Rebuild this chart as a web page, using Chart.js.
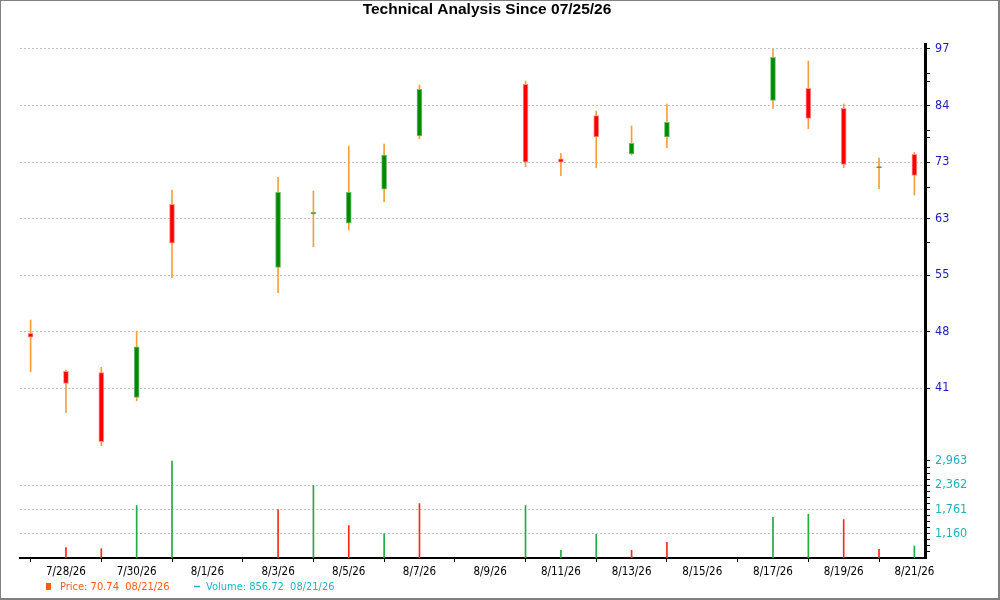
<!DOCTYPE html>
<html lang="en">
  <head>
    <meta charset="UTF-8" />
    <script src="https://cdn.jsdelivr.net/npm/chart.js"></script>
    <style>
      html, body { margin: 0; padding: 0; background: #fff; }
      #mainChart { width: 1000px; height: 600px; }
    </style>
  </head>
  <body>
    <div id="mainChart">
      <canvas id="myChart"></canvas>
    </div>

    <script>
      // trading days
      const dates = [
        "7/27/26", "7/28/26", "7/29/26", "7/30/26", "7/31/26",
        "8/3/26", "8/4/26", "8/5/26", "8/6/26", "8/7/26",
        "8/10/26", "8/11/26", "8/12/26", "8/13/26", "8/14/26",
        "8/17/26", "8/18/26", "8/19/26", "8/20/26", "8/21/26",
      ];
      const open = [47.54, 43.19, 43.05, 40.46, 65.8, 56.13, 64.21, 62.72, 68.33, 78.15,
        89.02, 73.8, 82.25, 74.69, 77.95, 85.5, 88.12, 83.79, 72.15, 74.63];
      const high = [49.16, 43.34, 43.63, 47.81, 68.21, 70.43, 68.04, 76.21, 76.59, 88.87,
        89.77, 74.82, 83.23, 80.15, 84.71, 97.23, 94.4, 84.71, 73.94, 75.0];
      const low = [43.15, 38.92, 35.82, 40.11, 54.68, 52.66, 59.13, 61.67, 66.23, 77.62,
        72.34, 70.71, 72.15, 74.5, 75.88, 83.79, 79.6, 72.15, 68.43, 67.35];
      const close = [47.07, 41.91, 36.18, 45.95, 59.64, 67.82, 64.48, 67.82, 74.49, 87.91,
        73.14, 73.14, 77.95, 76.72, 80.9, 95.29, 81.71, 72.77, 72.25, 70.74];
      const volume = [null, 817, 792, 1858, 2963, 1758, 2353, 1362, 1160, 1907,
        1858, 750, 1146, 750, 948, 1568, 1643, 1510, 775, 856.72];
      const volumeUp = [true, false, false, true, true, false, true, false, true, false,
        true, true, true, false, false, true, true, false, false, true];

      const priceTicks = [97.3, 84.39, 73.19, 63.48, 55.05, 47.75, 41.41];
      const priceTickLabels = ["97", "84", "73", "63", "55", "48", "41"];
      const priceMinorTicks = [91.4, 89.7, 79.3, 77.8, 68.7, 59.7];
      const volumeTicks = [2963, 2362, 1761, 1160];
      const volumeTickLabels = ["2,963", "2,362", "1,761", "1,160"];
      const dateTicks = ["7/28/26", "7/30/26", "8/1/26", "8/3/26", "8/5/26", "8/7/26",
        "8/9/26", "8/11/26", "8/13/26", "8/15/26", "8/17/26", "8/19/26", "8/21/26"];

      const PRICE_MIN = 35.43, PRICE_MAX = 98.53;
      const VOL_MIN = 559, VOL_MAX = 3235;

      const FONT = "'DejaVu Sans Condensed', 'DejaVu Sans', sans-serif";
      const WICK = "#f5a03c";
      const UP = "#008a00", UP_EDGE = "#70c070";
      const DOWN = "#ff0000", DOWN_EDGE = "#ff9090";
      const VOL_UP = "#22aa44", VOL_DOWN = "#ff2a10";
      const GRID = "#c0c0c0";

      function dayNum(s) {
        const [m, d] = s.split("/").map(Number);
        return Math.round((Date.UTC(2026, m - 1, d) - Date.UTC(2026, 6, 27)) / 864e5);
      }
      const xs = dates.map(dayNum);
      const isUp = dates.map((d, i) => close[i] >= open[i]);

      // volume minor ticks: quarters between the labelled ones
      const volStep = volumeTicks[0] - volumeTicks[1];
      const volumeMinor = [];
      for (let v = VOL_MIN + volStep / 4; v < volumeTicks[0]; v += volStep / 4) {
        if (!volumeTicks.some((t) => Math.abs(t - v) < 1)) volumeMinor.push(v);
      }

      const n = dates.length;
      const lastDate = dates[n - 1].split("/").map((p) => p.padStart(2, "0")).join("/");

      const framePlugin = {
        id: "frame",
        afterDraw(chart) {
          const c = chart.ctx;
          c.save();
          // title
          c.fillStyle = "#000";
          c.font = "bold 15.5px 'Liberation Sans', Arial, sans-serif";
          c.textAlign = "center";
          c.textBaseline = "middle";
          c.fillText("Technical Analysis Since 07/25/26", 487, 10);

          // legend
          c.font = "11px " + FONT;
          c.textAlign = "left";
          c.fillStyle = "#ff5a1e";
          c.fillRect(46, 583, 5, 7);
          c.fillText("Price: " + close[n - 1].toFixed(2) + "  " + lastDate, 60, 587);
          c.strokeStyle = "#1cb5c8";
          c.lineWidth = 1.5;
          c.beginPath();
          c.moveTo(194, 586.5);
          c.lineTo(200, 586.5);
          c.stroke();
          c.fillStyle = "#1cb5c8";
          c.fillText("Volume: " + volume[n - 1].toFixed(2) + "  " + lastDate, 206, 587);

          // outer frame
          c.strokeStyle = "#808080";
          c.lineWidth = 1;
          c.strokeRect(0.5, 0.5, 998, 598);
          c.beginPath();
          c.moveTo(999.5, 0);
          c.lineTo(999.5, 600);
          c.moveTo(0, 599.5);
          c.lineTo(1000, 599.5);
          c.stroke();
          c.restore();
        },
      };

      const ctx = document.getElementById("myChart");

      const myChart = new Chart(ctx, {
        type: "bar",
        data: {
          datasets: [
            {
              label: "Wick",
              data: xs.map((x, i) => ({ x: x, y: [low[i], high[i]] })),
              backgroundColor: WICK,
              barThickness: 1,
              grouped: false,
              yAxisID: "y",
              order: 3,
            },
            {
              label: "Price",
              data: xs.map((x, i) => ({ x: x, y: [open[i], close[i]] })),
              backgroundColor: isUp.map((u) => (u ? UP : DOWN)),
              borderColor: isUp.map((u) => (u ? UP_EDGE : DOWN_EDGE)),
              borderWidth: 1,
              borderSkipped: false,
              barThickness: 5,
              minBarLength: 1,
              grouped: false,
              yAxisID: "y",
              order: 1,
            },
            {
              label: "Volume",
              data: xs.map((x, i) => ({ x: x, y: volume[i] })),
              backgroundColor: volumeUp.map((u) => (u ? VOL_UP : VOL_DOWN)),
              barThickness: 1,
              base: VOL_MIN,
              grouped: false,
              yAxisID: "v",
              order: 2,
            },
          ],
        },
        options: {
          responsive: true,
          maintainAspectRatio: false,
          animation: false,
          devicePixelRatio: 1,
          layout: { padding: { top: 44, left: 20, right: 0, bottom: 22 } },
          plugins: {
            legend: { display: false },
            title: { display: false },
            tooltip: { enabled: false },
          },
          scales: {
            x: {
              type: "linear",
              position: "bottom",
              min: -0.3,
              max: 25.3,
              offset: false,
              afterBuildTicks: (scale) => {
                scale.ticks = dateTicks.map((d) => ({ value: dayNum(d) }));
              },
              afterFit: (scale) => { scale.height = 20; },
              ticks: {
                autoSkip: false,
                maxRotation: 0,
                padding: 3,
                color: "#000",
                font: { family: FONT, size: 11.5 },
                callback: (value, index) => dateTicks[index],
              },
              grid: { drawOnChartArea: false, tickLength: 4, tickColor: "#000", tickWidth: 1 },
              border: { color: "#000", width: 2 },
            },
            y: {
              type: "logarithmic",
              position: "right",
              stack: "right",
              stackWeight: 406,
              min: PRICE_MIN,
              max: PRICE_MAX,
              afterBuildTicks: (scale) => {
                scale.ticks = priceTicks.concat(priceMinorTicks).map((v) => ({ value: v }));
              },
              afterFit: (scale) => { scale.width = 75; },
              ticks: {
                autoSkip: false,
                padding: 5,
                color: "#1c1cb4",
                font: { family: FONT, size: 12.5 },
                callback: (value) => {
                  const k = priceTicks.indexOf(value);
                  return k >= 0 ? priceTickLabels[k] : "";
                },
              },
              grid: {
                color: (c) => (c.tick && priceTicks.includes(c.tick.value) ? GRID : "rgba(0,0,0,0)"),
                tickColor: "#000",
                tickLength: 5,
                tickWidth: 1,
              },
              border: { color: "#000", width: 3, dash: [2, 2] },
            },
            v: {
              type: "linear",
              position: "right",
              stack: "right",
              stackWeight: 108,
              min: VOL_MIN,
              max: VOL_MAX,
              afterBuildTicks: (scale) => {
                scale.ticks = volumeTicks.concat(volumeMinor).map((v) => ({ value: v }));
              },
              afterFit: (scale) => { scale.width = 75; },
              ticks: {
                autoSkip: false,
                padding: 5,
                color: "#1fb0b8",
                font: { family: FONT, size: 12.5 },
                callback: (value) => {
                  const k = volumeTicks.indexOf(value);
                  return k >= 0 ? volumeTickLabels[k] : "";
                },
              },
              grid: {
                color: (c) =>
                  c.tick && volumeTicks.includes(c.tick.value) && c.tick.value !== volumeTicks[0]
                    ? GRID
                    : "rgba(0,0,0,0)",
                tickColor: "#000",
                tickLength: 5,
                tickWidth: 1,
              },
              border: { color: "#000", width: 3, dash: [2, 2] },
            },
          },
        },
        plugins: [framePlugin],
      });
    </script>
  </body>
</html>
